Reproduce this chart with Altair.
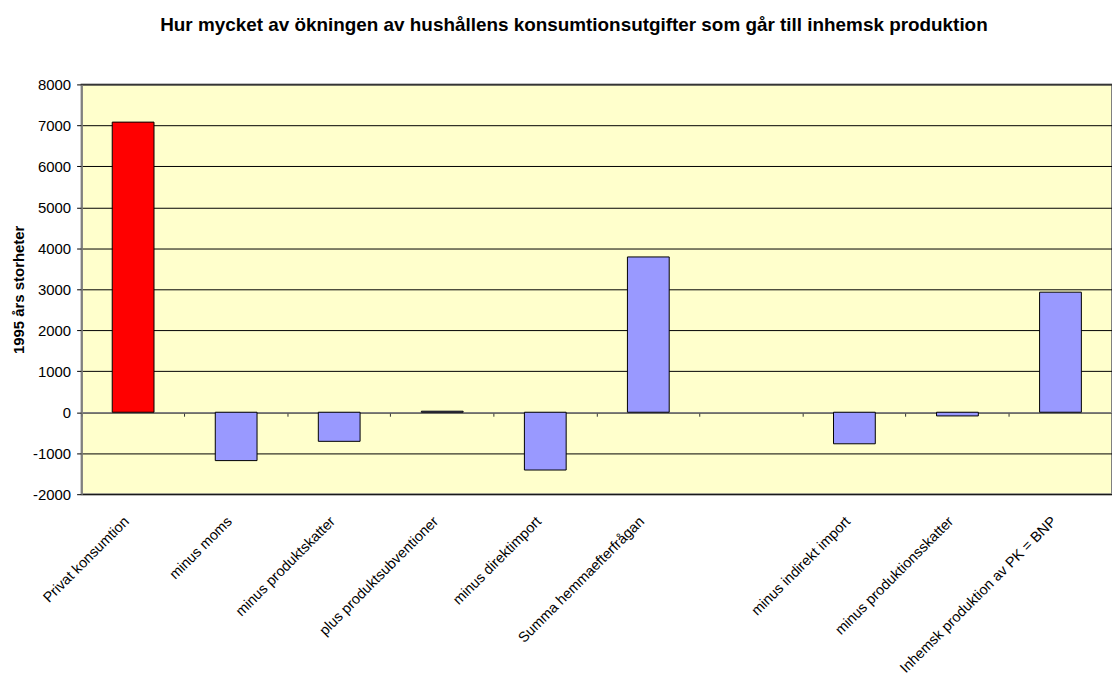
import altair as alt
import pandas as pd

categories = [
    "Privat konsumtion",
    "minus moms",
    "minus produktskatter",
    "plus produktsubventioner",
    "minus direktimport",
    "Summa hemmaefterfrågan",
    " ",
    "minus indirekt import",
    "minus produktionsskatter",
    "Inhemsk produktion av PK = BNP",
]
values = [7080, -1180, -710, 25, -1410, 3790, None, -770, -90, 2930]
colors = ["#FF0000", "#9999FF", "#9999FF", "#9999FF", "#9999FF", "#9999FF",
          "#9999FF", "#9999FF", "#9999FF", "#9999FF"]
y_ticks = list(range(-2000, 8001, 1000))

df = pd.DataFrame({"cat": categories, "val": values, "col": colors})

FONT = "Liberation Sans"
W, H = 1036, 412

xscale = alt.Scale(domain=categories, paddingInner=0, paddingOuter=0)
yscale = alt.Scale(domain=[-2000, 8000], nice=False)

yaxis = alt.Axis(values=y_ticks, labelExpr="'' + datum.value",
                 title="1995 års storheter",
                 titleFont=FONT, titleFontSize=15, titleFontWeight="bold",
                 titleColor="black", titlePadding=6,
                 labelFont=FONT, labelFontSize=15, labelColor="black",
                 labelPadding=6, tickSize=5, tickColor="black",
                 domainColor="#808080", domainWidth=1.5,
                 grid=True, gridColor="black", gridWidth=1, gridOpacity=1)

bars = alt.Chart(df).mark_bar(stroke="black", strokeWidth=1, size=42).encode(
    x=alt.X("cat:N", sort=categories, scale=xscale, title=None,
            axis=alt.Axis(orient="bottom", labelAngle=-45, labelAlign="right",
                          labelBaseline="top", labelFontSize=14.5, labelFont=FONT,
                          labelColor="black", labelPadding=20, labelOffset=-11,
                          labelLimit=400, ticks=False, domain=False, grid=False)),
    y=alt.Y("val:Q", scale=yscale, axis=yaxis),
    color=alt.Color("col:N", scale=None),
)

zero_axis = alt.Chart(df).mark_bar(opacity=0, size=42).encode(
    x=alt.X("cat:N", sort=categories, scale=xscale, title=None,
            axis=alt.Axis(orient="bottom", offset=-82.4, labels=False,
                          bandPosition=0, ticks=True, tickSize=4,
                          tickColor="#333333", domain=True,
                          domainColor="#808080", domainWidth=1.5, grid=False)),
    y=alt.Y("val:Q", scale=yscale, axis=yaxis),
)

chart = alt.layer(bars, zero_axis).resolve_axis(x="independent").properties(
    width=W, height=H,
    autosize=alt.AutoSizeParams(type="none"),
    padding={"left": 74, "top": 75, "right": 0, "bottom": 190},
    title=alt.TitleParams(
        "Hur mycket av ökningen av hushållens konsumtionsutgifter som går till inhemsk produktion",
        font=FONT, fontSize=19, fontWeight="bold", color="black",
        anchor="middle", dx=-23, offset=43),
).configure_view(fill="#FFFFCC", stroke="#808080", strokeWidth=2)

chart.save("out.html", embed_options={"renderer": "svg", "actions": False})
